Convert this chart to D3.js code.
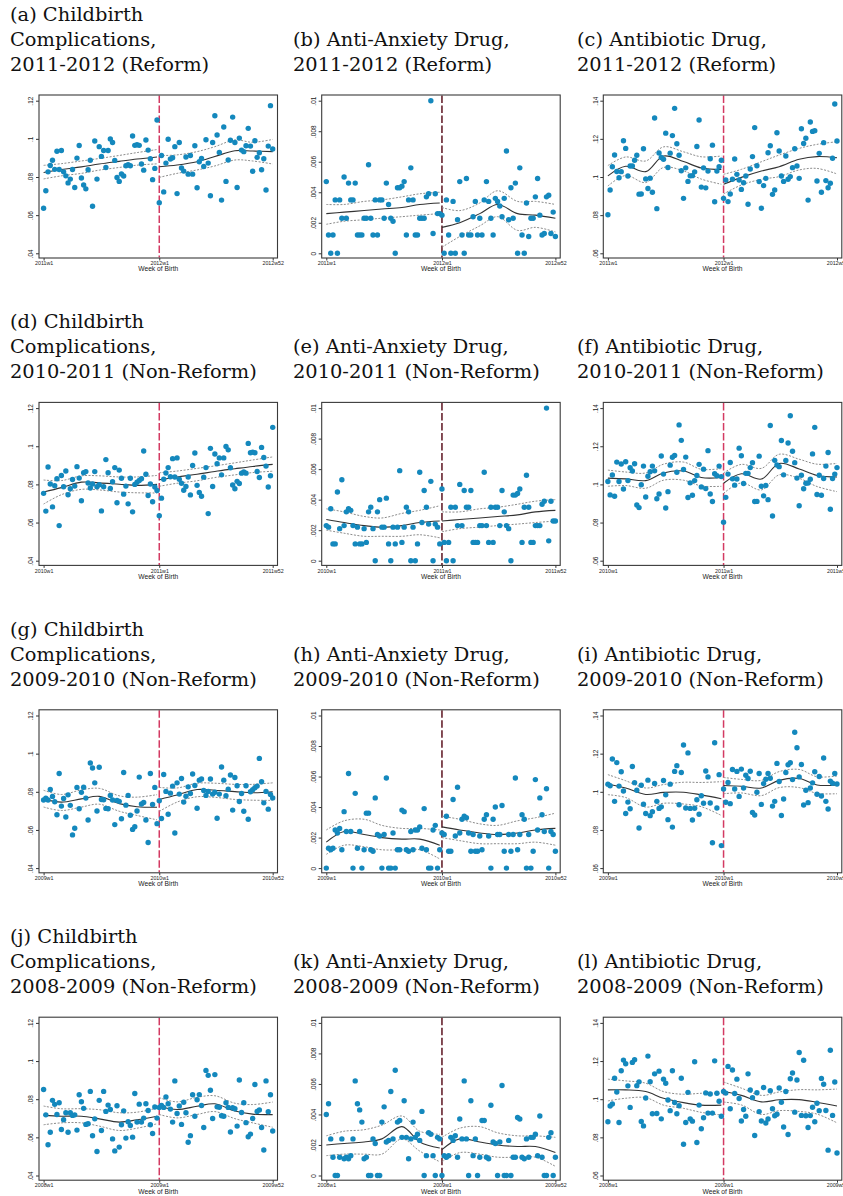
<!DOCTYPE html>
<html>
<head>
<meta charset="utf-8">
<script src="https://cdn.jsdelivr.net/npm/d3@7"></script>
<style>
  body { margin: 0; background: #fff; }
  svg { display: block; }
</style>
</head>
<body>
<svg id="chart"></svg>
<script>
// weekly rates, one array per outcome and birth year (52 weeks each)
var comp2008 = [.0851,.0718,.0561,.0627,.0794,.0773,.0720,.0781,.0641,.0692,.0729,.0627,.0729,.0715,.0718,.0638,.0823,.0787,.0752,.0668,.0671,.0841,.0608,.0697,.0526,.0794,.0636,.0841,.0736,.0769,.0746,.0592,.0529,.0766,.0549,.0666,.0739,.0596,.0682,.0662,.0601,.0830,.0680,.0774,.0680,.0701,.0776,.0741,.0666,.0620,.0759,.0701];
var comp2009 = [.0757,.0767,.0757,.0812,.0776,.0748,.0680,.0896,.0725,.0765,.0668,.0784,.0729,.0574,.0609,.0823,.0711,.0797,.0824,.0767,.0652,.0951,.0925,.0847,.0699,.0929,.0760,.0758,.0713,.0711,.0781,.0757,.0628,.0755,.0750,.0659,.0901,.0730,.0781,.0677,.0603,.0617,.0699,.0877,.0736,.0744,.0652,.0534,.0896,.0734,.0823,.0633];
var comp2010 = [.0753,.0660,.0891,.0802,.0682,.0793,.0830,.0584,.0847,.0788,.0870,.0746,.0777,.0826,.0791,.0893,.0833,.0714,.0861,.0867,.0807,.0781,.0802,.0867,.0788,.0798,.0661,.0788,.0930,.0861,.0779,.0814,.0888,.0704,.0875,.0832,.0749,.0791,.0698,.0832,.0656,.0800,.0811,.0821,.0830,.0975,.0853,.0742,.0802,.0709,.0786,.0768];
var comp2011 = [.0636,.0728,.0827,.0860,.0888,.0840,.0935,.0839,.0939,.0827,.0806,.0769,.0789,.0839,.0745,.0899,.0965,.0795,.0758,.0738,.0838,.0888,.0647,.0989,.0789,.0959,.0908,.0939,.0850,.0939,.0999,.0981,.0887,.0797,.0777,.0816,.0805,.0859,.0865,.0859,.1015,.0966,.0969,.0966,.0868,.0836,.0994,.0941,.0896,.0786,.0845,.1099];
var comp2012 = [.0665,.0913,.0722,.0873,.0998,.0894,.0901,.0959,.0713,.0981,.0847,.0831,.0905,.0815,.0913,.0815,.0964,.0744,.0880,.0897,.0855,.0995,.0873,.0702,.0981,.1121,.1020,.0929,.0679,.1062,.0777,.0889,.0993,.1114,.0981,.0745,.1004,.0941,.0933,.0964,.1055,.0962,.0830,.0990,.0903,.0927,.0838,.0896,.0732,.0962,.1174,.0947];

var anx2008 = [.0040,.0047,.0024,.0012,0,0,.0012,.0024,.0011,.0012,.0011,.0013,.0024,.0062,.0047,.0043,.0035,.0011,.0012,0,0,.0024,.0021,0,0,.0035,.0045,.0022,.0023,.0055,.0024,.0069,.0035,.0036,.0025,.0049,.0025,.0011,.0024,.0035,.0025,.0027,.0023,.0042,0,.0013,.0028,.0027,.0013,0,.0025,.0024];
var anx2009 = [0,.0013,.0012,.0013,.0025,.0023,.0026,.0012,.0037,.0024,.0062,.0024,0,.0049,.0013,.0024,0,.0012,.0036,.0036,.0012,.0011,.0046,.0022,.0021,0,.0022,.0059,0,0,.0023,0,.0012,.0012,.0038,.0037,.0012,.0011,.0024,.0012,.0025,.0025,.0027,.0013,.0039,.0012,0,0,.0025,.0028,0,.0012];
var anx2010 = [.0023,.0022,.0034,.0011,.0011,.0045,.0021,.0053,.0023,.0032,.0034,.0033,.0023,.0011,.0022,.0011,.0011,.0021,.0012,.0032,.0035,.0021,0,.0032,.0040,.0022,.0022,.0041,.0011,0,.0022,.0011,.0022,.0059,.0012,.0022,.0035,.0032,0,.0022,0,.0011,.0058,.0025,.0046,.0035,.0024,.0052,0,.0024,.0022,.0011];
var anx2011 = [.0047,.0012,0,.0012,.0035,0,.0035,.0023,.0050,.0023,.0046,.0035,.0035,.0046,.0012,.0012,.0012,.0023,.0023,.0058,.0023,.0012,.0035,.0012,.0035,.0035,.0023,.0046,.0032,.0023,.0021,0,.0043,.0043,.0044,.0047,.0012,.0035,.0056,.0035,.0012,.0012,.0023,.0023,.0023,.0037,.0039,.0100,.0013,.0039,.0026,.0026];
var anx2012 = [.0025,0,.0035,.0012,0,.0034,0,.0022,.0047,.0012,0,.0049,.0012,.0012,.0024,.0034,.0012,.0023,.0012,.0035,.0047,.0034,.0023,.0012,.0036,.0034,.0031,.0024,.0036,.0067,.0022,.0043,.0023,.0046,0,.0056,.0012,0,.0033,.0011,.0023,.0023,.0037,.0049,.0025,.0012,.0013,.0037,.0038,.0013,.0027,.0011];

var abx2008 = [.0882,.0964,.0975,.1110,.1038,.0878,.1149,.1205,.1186,.1070,.0957,.1193,.1207,.1071,.1091,.0883,.0860,.1006,.1226,.1092,.0924,.1133,.0925,.1147,.0897,.1105,.1084,.0996,.0940,.1149,.0983,.0924,.0966,.1110,.0764,.0878,.1036,.0897,.0885,.1196,.0773,.0969,.0845,.0903,.1033,.0927,.1027,.0927,.1201,.1031,.0989,.0911];
var abx2009 = [.1040,.1032,.1172,.0950,.1153,.1030,.1105,.1004,.0886,.0946,.0911,.1133,.1048,.1008,.0810,.1034,.0935,.0886,.1061,.0875,.0896,.1044,.0950,.0913,.0921,.1059,.0984,.0854,.1040,.0815,.1107,.1137,.0932,.1101,.1245,.0915,.1204,.0913,.0852,.0914,.0958,.0882,.0979,.0940,.1109,.1078,.0941,.0733,.1257,.0915,.1090,.0718];
var abx2010 = [.1015,.0945,.1049,.0938,.1117,.1015,.1107,.0976,.1119,.1020,.1087,.1070,.1108,.0892,.0878,.0998,.1096,.0934,.1043,.1066,.1096,.1071,.0925,.0950,.1149,.1054,.0876,.0962,.1101,.1142,.1152,.1064,.1312,.1231,.1078,.1143,.0931,.1008,.0943,.1020,.1047,.1105,.0987,.1080,.0978,.1177,.0950,.0910,.1056,.1045,.1096,.1041];
var abx2011 = [.0802,.0932,.1054,.1115,.1029,.0996,.1028,.1190,.1150,.1005,.1058,.1058,.1088,.1114,.0910,.0911,.1148,.0990,.0940,.0994,.0920,.1309,.0834,.1126,.1102,.1093,.1230,.1050,.1125,.1217,.1360,.1174,.1114,.1033,.0888,.1048,.0977,.1006,.1007,.1027,.1160,.1299,.0947,.1048,.0943,.1031,.1096,.1167,.0870,.1031,.1054,.1088];
var abx2012 = [.0888,.0984,.0871,.0911,.0988,.1094,.1014,.0984,.0935,.0970,.1005,.0857,.1042,.1107,.1259,.1059,.0976,.0836,.0955,.0993,.1127,.1164,.0909,.0932,.1232,.1136,.1005,.0977,.1110,.0988,.1002,.1049,.1148,.1058,.0993,.1253,.1176,.1203,.0879,.1288,.1239,.1243,.0979,.1124,.0920,.1180,.0981,.0944,.0967,.1098,.1383,.1189];

// smoothed fit and confidence band, read at these weeks of each year
var knotWeeks = [1, 9, 18, 26, 35, 43, 52];

var compMid2008 = [.0715,.0711,.0711,.0697,.0680,.0692,.0711];
var compLo2008  = [.0666,.0676,.0676,.0659,.0636,.0648,.0671];
var compHi2008  = [.0764,.0750,.0750,.0745,.0729,.0732,.0753];
var compMid2009 = [.0763,.0746,.0763,.0776,.0738,.0722,.0719];
var compLo2009  = [.0720,.0702,.0720,.0735,.0698,.0676,.0653];
var compHi2009  = [.0808,.0786,.0810,.0818,.0779,.0772,.0785];
var compMid2010 = [.0760,.0783,.0812,.0808,.0801,.0795,.0800];
var compLo2010  = [.0697,.0746,.0774,.0771,.0760,.0756,.0755];
var compHi2010  = [.0823,.0820,.0845,.0845,.0839,.0839,.0847];
var compMid2011 = [.0824,.0839,.0853,.0868,.0882,.0894,.0905];
var compLo2011  = [.0790,.0806,.0819,.0836,.0850,.0862,.0869];
var compHi2011  = [.0861,.0870,.0884,.0897,.0913,.0928,.0944];
var compMid2012 = [.0854,.0863,.0880,.0907,.0938,.0936,.0933];
var compLo2012  = [.0798,.0819,.0837,.0858,.0889,.0884,.0868];
var compHi2012  = [.0912,.0916,.0933,.0959,.0994,.0982,.0997];

var anxMid2008 = [.0020,.0021,.0022,.0024,.0032,.0022,.0018];
var anxLo2008  = [.0013,.0014,.0014,.0014,.0024,.0016,.0009];
var anxHi2008  = [.0026,.0029,.0030,.0033,.0039,.0029,.0027];
var anxMid2009 = [.0017,.0024,.0022,.0020,.0019,.0019,.0015];
var anxLo2009  = [.0009,.0015,.0014,.0012,.0012,.0012,.0006];
var anxHi2009  = [.0025,.0031,.0032,.0028,.0026,.0026,.0025];
var anxMid2010 = [.0027,.0025,.0023,.0022,.0023,.0025,.0026];
var anxLo2010  = [.0020,.0018,.0016,.0016,.0016,.0017,.0015];
var anxHi2010  = [.0034,.0032,.0029,.0028,.0031,.0033,.0036];
var anxMid2011 = [.0026,.0027,.0028,.0029,.0030,.0032,.0033];
var anxLo2011  = [.0019,.0021,.0022,.0023,.0024,.0025,.0026];
var anxHi2011  = [.0032,.0032,.0034,.0035,.0037,.0039,.0040];
var anxMid2012 = [.0017,.0020,.0026,.0032,.0026,.0025,.0023];
var anxLo2012  = [.0004,.0011,.0018,.0024,.0015,.0017,.0014];
var anxHi2012  = [.0030,.0028,.0033,.0041,.0034,.0034,.0032];

var abxMid2008 = [.1049,.1049,.1040,.1005,.0982,.0969,.0969];
var abxLo2008  = [.0991,.1005,.1008,.0969,.0952,.0931,.0917];
var abxHi2008  = [.1105,.1096,.1084,.1040,.1026,.1031,.1031];
var abxMid2009 = [.1040,.1020,.0986,.0997,.0998,.0984,.0964];
var abxLo2009  = [.0985,.0970,.0920,.0940,.0936,.0922,.0876];
var abxHi2009  = [.1090,.1058,.1020,.1038,.1050,.1049,.1053];
var abxMid2010 = [.1033,.1029,.1020,.1060,.1070,.1036,.1036];
var abxLo2010  = [.0990,.0994,.0980,.1022,.1022,.0992,.0990];
var abxHi2010  = [.1075,.1065,.1060,.1106,.1117,.1079,.1083];
var abxMid2011 = [.1006,.1056,.1028,.1110,.1081,.1047,.1039];
var abxLo2011  = [.0953,.1008,.0971,.1050,.1032,.0989,.0962];
var abxHi2011  = [.1060,.1105,.1084,.1158,.1132,.1106,.1110];
var abxMid2012 = [.0962,.0998,.1031,.1054,.1093,.1107,.1101];
var abxLo2012  = [.0911,.0958,.0988,.1002,.1037,.1045,.1016];
var abxHi2012  = [.1014,.1040,.1080,.1115,.1150,.1171,.1185];

var compTicks = [.04, .06, .08, .1, .12];
var anxTicks = [0, .002, .004, .006, .008, .01];
var abxTicks = [.06, .08, .1, .12, .14];

var panelTitles = [
  ["(a) Childbirth", "Complications,", "2011-2012 (Reform)"],
  ["(b) Anti-Anxiety Drug,", "2011-2012 (Reform)"],
  ["(c) Antibiotic Drug,", "2011-2012 (Reform)"],
  ["(d) Childbirth", "Complications,", "2010-2011 (Non-Reform)"],
  ["(e) Anti-Anxiety Drug,", "2010-2011 (Non-Reform)"],
  ["(f) Antibiotic Drug,", "2010-2011 (Non-Reform)"],
  ["(g) Childbirth", "Complications,", "2009-2010 (Non-Reform)"],
  ["(h) Anti-Anxiety Drug,", "2009-2010 (Non-Reform)"],
  ["(i) Antibiotic Drug,", "2009-2010 (Non-Reform)"],
  ["(j) Childbirth", "Complications,", "2008-2009 (Non-Reform)"],
  ["(k) Anti-Anxiety Drug,", "2008-2009 (Non-Reform)"],
  ["(l) Antibiotic Drug,", "2008-2009 (Non-Reform)"]
];
var firstYears = [2011, 2010, 2009, 2008];

// lookup tables built from the arrays above
var outcomes = [
  { ticks: compTicks, cut: "#d33a62",
    rates: {2008: comp2008, 2009: comp2009, 2010: comp2010, 2011: comp2011, 2012: comp2012},
    mid: {2008: compMid2008, 2009: compMid2009, 2010: compMid2010, 2011: compMid2011, 2012: compMid2012},
    lo: {2008: compLo2008, 2009: compLo2009, 2010: compLo2010, 2011: compLo2011, 2012: compLo2012},
    hi: {2008: compHi2008, 2009: compHi2009, 2010: compHi2010, 2011: compHi2011, 2012: compHi2012} },
  { ticks: anxTicks, cut: "#5c1420",
    rates: {2008: anx2008, 2009: anx2009, 2010: anx2010, 2011: anx2011, 2012: anx2012},
    mid: {2008: anxMid2008, 2009: anxMid2009, 2010: anxMid2010, 2011: anxMid2011, 2012: anxMid2012},
    lo: {2008: anxLo2008, 2009: anxLo2009, 2010: anxLo2010, 2011: anxLo2011, 2012: anxLo2012},
    hi: {2008: anxHi2008, 2009: anxHi2009, 2010: anxHi2010, 2011: anxHi2011, 2012: anxHi2012} },
  { ticks: abxTicks, cut: "#d33a62",
    rates: {2008: abx2008, 2009: abx2009, 2010: abx2010, 2011: abx2011, 2012: abx2012},
    mid: {2008: abxMid2008, 2009: abxMid2009, 2010: abxMid2010, 2011: abxMid2011, 2012: abxMid2012},
    lo: {2008: abxLo2008, 2009: abxLo2009, 2010: abxLo2010, 2011: abxLo2011, 2012: abxLo2012},
    hi: {2008: abxHi2008, 2009: abxHi2009, 2010: abxHi2010, 2011: abxHi2011, 2012: abxHi2012} }
];

var width = 843, height = 1196;
var colLeft = [39, 321.7, 603.3];
var titleLeft = [10, 293, 577];
var frameW = 238.5, frameH = 163;
var rowTop0 = 95, rowStep = 307.4;
var pad = {left: 4.6, right: 4.8, top: 5.7, bottom: 4.7};

var svg = d3.select("#chart")
    .attr("width", width)
    .attr("height", height);

var stataNum = function (v) {
    if (v === 0) return "0";
    return String(+v.toFixed(4)).replace(/^0\./, ".");
};

firstYears.forEach(function (y1, row) {
    outcomes.forEach(function (oc, col) {
        var idx = row * 3 + col;
        var y2 = y1 + 1;
        var x0 = colLeft[col], top = rowTop0 + row * rowStep;

        // title
        var lines = panelTitles[idx];
        var tt = svg.append("text")
            .attr("font-family", "'DejaVu Serif', serif")
            .attr("font-size", 19.4)
            .attr("fill", "#111");
        lines.forEach(function (s, k) {
            tt.append("tspan")
              .attr("x", titleLeft[col])
              .attr("y", top - 24 - (lines.length - 1 - k) * 25)
              .text(s);
        });

        var g = svg.append("g")
            .attr("transform", "translate(" + x0 + "," + top + ")");

        var x = d3.scaleLinear()
            .domain([1, 104])
            .range([pad.left, frameW - pad.right]);
        var y = d3.scaleLinear()
            .domain(d3.extent(oc.ticks))
            .range([frameH - pad.bottom, pad.top]);

        // y axis: rotated labels, Stata number style
        var yAxis = g.append("g")
            .call(d3.axisLeft(y).tickValues(oc.ticks).tickSize(3).tickFormat(stataNum));
        yAxis.select(".domain").remove();
        yAxis.selectAll("line").attr("stroke", "#333");
        yAxis.selectAll("text")
            .attr("font-family", "'Liberation Sans', Arial, sans-serif")
            .attr("font-size", 6.4)
            .attr("fill", "#222")
            .attr("text-anchor", "middle")
            .attr("transform", "rotate(-90)")
            .attr("x", 0).attr("y", -5.7).attr("dy", 0);

        // x axis
        var xAxis = g.append("g")
            .attr("transform", "translate(0," + frameH + ")")
            .call(d3.axisBottom(x).tickValues([1, 53, 104]).tickSize(2.5).tickPadding(1)
                .tickFormat(function (d) {
                    return d === 1 ? y1 + "w1" : d === 53 ? y2 + "w1" : y2 + "w52";
                }));
        xAxis.select(".domain").remove();
        xAxis.selectAll("line").attr("stroke", "#333");
        xAxis.selectAll("text")
            .attr("font-family", "'Liberation Sans', Arial, sans-serif")
            .attr("font-size", 5.3)
            .attr("fill", "#222");

        g.append("text")
            .attr("x", frameW / 2)
            .attr("y", frameH + 13.4)
            .attr("text-anchor", "middle")
            .attr("font-family", "'Liberation Sans', Arial, sans-serif")
            .attr("font-size", 6.7)
            .attr("fill", "#222")
            .text("Week of Birth");

        // cutoff
        g.append("line")
            .attr("x1", x(53)).attr("x2", x(53))
            .attr("y1", 0.5).attr("y2", frameH - 0.5)
            .attr("stroke", oc.cut)
            .attr("stroke-width", 1.5)
            .attr("stroke-dasharray", "7.5,2.5");

        // fits, one piece per year
        var line = d3.line()
            .x(function (d) { return x(d[0]); })
            .y(function (d) { return y(d[1]); })
            .curve(d3.curveCatmullRom.alpha(0.5));

        [y1, y2].forEach(function (yr, h) {
            var off = h * 52;
            var pts = function (arr) {
                return arr.map(function (v, k) { return [knotWeeks[k] + off, v]; });
            };
            g.append("path").datum(pts(oc.lo[yr]))
                .attr("d", line).attr("fill", "none")
                .attr("stroke", "#8c8c8c").attr("stroke-width", 1)
                .attr("stroke-dasharray", "2,1.5");
            g.append("path").datum(pts(oc.hi[yr]))
                .attr("d", line).attr("fill", "none")
                .attr("stroke", "#8c8c8c").attr("stroke-width", 1)
                .attr("stroke-dasharray", "2,1.5");
            g.append("path").datum(pts(oc.mid[yr]))
                .attr("d", line).attr("fill", "none")
                .attr("stroke", "#333").attr("stroke-width", 1.1);
        });

        // weekly dots
        var dots = oc.rates[y1].map(function (v, k) { return [k + 1, v]; })
            .concat(oc.rates[y2].map(function (v, k) { return [k + 53, v]; }));
        g.selectAll(".dot")
            .data(dots)
            .enter().append("circle")
            .attr("class", "dot")
            .attr("cx", function (d) { return x(d[0]); })
            .attr("cy", function (d) { return y(d[1]); })
            .attr("r", 2.7)
            .attr("fill", "#1488bd");

        // frame
        g.append("rect")
            .attr("width", frameW).attr("height", frameH)
            .attr("fill", "none")
            .attr("stroke", "#3a3a3a")
            .attr("stroke-width", 1.1);
    });
});
</script>
</body>
</html>
